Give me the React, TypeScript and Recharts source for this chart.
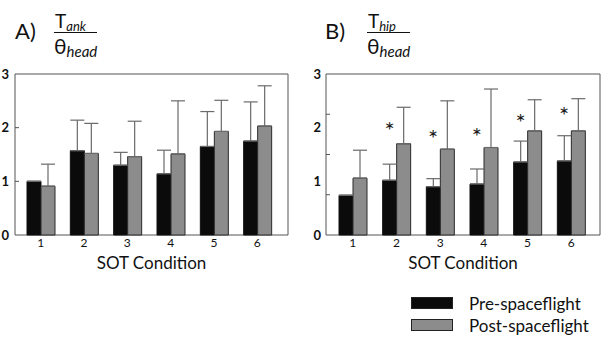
import React from 'react';
import { ComposedChart, Bar, ErrorBar, XAxis, YAxis, CartesianGrid, Scatter, Legend } from 'recharts';

const FONT = 'Lato, "Open Sans", sans-serif';

// ---- data ----
const conditions = ['1', '2', '3', '4', '5', '6'];

const ankPre = [1.0, 1.57, 1.3, 1.14, 1.65, 1.75];
const ankPreSD = [0, 0.57, 0.24, 0.44, 0.65, 0.73];
const ankPost = [0.91, 1.52, 1.46, 1.51, 1.93, 2.03];
const ankPostSD = [0.41, 0.56, 0.66, 0.99, 0.58, 0.75];

const hipPre = [0.74, 1.02, 0.9, 0.95, 1.36, 1.38];
const hipPreSD = [0, 0.3, 0.15, 0.28, 0.39, 0.47];
const hipPost = [1.06, 1.7, 1.6, 1.63, 1.94, 1.94];
const hipPostSD = [0.52, 0.68, 0.9, 1.09, 0.58, 0.6];
const hipStars: (number | null)[] = [null, 1.99, 1.85, 1.88, 2.14, 2.28];

const yLabels = [0, 1, 2, 3];
const ankMarks = [1, 2];
const hipMarks = [0.75, 1.5, 2.25];

const PRE_NAME = 'Pre-spaceflight';
const POST_NAME = 'Post-spaceflight';
const PRE_COLOR = '#0b0b0b';
const POST_COLOR = '#8c8c8c';
const BAR_SIZE = 14;
const SERIES_ORDER = ['pre', 'post'];

const build = (pre: number[], preSD: number[], post: number[], postSD: number[], stars?: (number | null)[]) =>
  conditions.map((c, i) => ({
    cond: c,
    pre: pre[i],
    preErr: [0, preSD[i]],
    post: post[i],
    postErr: [0, postSD[i]],
    star: stars ? stars[i] : null,
  }));

const ankData = build(ankPre, ankPreSD, ankPost, ankPostSD);
const hipData = build(hipPre, hipPreSD, hipPost, hipPostSD, hipStars);

const makeYTick = (marks: number[], margin: number) => (props: any) => {
  const { x, y, payload } = props;
  const v = payload.value;
  const isLabel = yLabels.includes(v);
  return (
    <g>
      {isLabel && (
        <text x={x} y={y} dy="0.36em" textAnchor="end" fontSize={13} fontWeight={700} fill="#111" fontFamily={FONT}>
          {v}
        </text>
      )}
      {marks.includes(v) && <line x1={x + margin} x2={x + margin + 4} y1={y} y2={y} stroke="#555" />}
    </g>
  );
};

const Star = (props: any) => {
  const { cx, cy } = props;
  if (!Number.isFinite(cx) || !Number.isFinite(cy)) return null;
  return (
    <text x={cx - BAR_SIZE / 2} y={cy} dy={11} textAnchor="middle" fontSize={24} fill="#1a1a1a" fontFamily={FONT}>
      *
    </text>
  );
};

const frameH = ({ offset }: any) => [offset.top, offset.top + offset.height];
const frameV = ({ offset }: any) => [offset.left, offset.left + offset.width];

const LegendContent = (props: any) => {
  const items = (props.payload || [])
    .filter((p: any) => SERIES_ORDER.includes(p.dataKey))
    .sort((a: any, b: any) => SERIES_ORDER.indexOf(a.dataKey) - SERIES_ORDER.indexOf(b.dataKey));
  return (
    <div style={{ fontFamily: FONT, fontSize: 17, color: '#111' }}>
      {items.map((p: any) => (
        <div key={p.value} style={{ display: 'flex', alignItems: 'center', height: 22 }}>
          <span
            style={{
              display: 'inline-block',
              width: 40,
              height: 10,
              background: p.color,
              border: '1px solid #222',
              marginRight: 16,
            }}
          />
          <span>{p.value}</span>
        </div>
      ))}
    </div>
  );
};

function Panel(props: {
  data: any[];
  yWidth: number;
  right: number;
  marks: number[];
  tickMargin: number;
  padL: number;
  padR: number;
  width: number;
  withStars?: boolean;
  withLegend?: boolean;
}) {
  const { data, yWidth, right, marks, tickMargin, padL, padR, width, withStars, withLegend } = props;
  const yTicks = Array.from(new Set([...yLabels, ...marks])).sort((a, b) => a - b);
  return (
    <ComposedChart width={width} height={340} data={data} margin={{ top: 74, right, bottom: 60, left: 0 }} barGap={0}>
      <CartesianGrid stroke="#555" horizontalCoordinatesGenerator={frameH} verticalCoordinatesGenerator={frameV} />
      <XAxis
        dataKey="cond"
        height={45}
        padding={{ left: padL, right: padR }}
        tickLine={false}
        axisLine={false}
        tickSize={0}
        tickMargin={3}
        tick={{ fontSize: 12, fill: '#111', fontFamily: FONT }}
        label={{ value: 'SOT Condition', position: 'insideBottom', offset: 11, fontSize: 17, fill: '#111', fontFamily: FONT }}
      />
      <YAxis
        type="number"
        domain={[0, 3]}
        ticks={yTicks}
        interval={0}
        width={yWidth}
        axisLine={false}
        tickLine={false}
        tickSize={0}
        tickMargin={tickMargin}
        tick={makeYTick(marks, tickMargin)}
      />
      <Bar dataKey="pre" name={PRE_NAME} fill={PRE_COLOR} stroke="#111" strokeWidth={1} barSize={BAR_SIZE} isAnimationActive={false}>
        <ErrorBar dataKey="preErr" width={7} stroke="#6a6a6a" strokeWidth={1.2} isAnimationActive={false} />
      </Bar>
      <Bar dataKey="post" name={POST_NAME} fill={POST_COLOR} stroke="#2a2a2a" strokeWidth={1} barSize={BAR_SIZE} isAnimationActive={false}>
        <ErrorBar dataKey="postErr" width={7} stroke="#6a6a6a" strokeWidth={1.2} isAnimationActive={false} />
      </Bar>
      {withStars && <Scatter dataKey="star" fill="#1a1a1a" shape={Star} legendType="none" isAnimationActive={false} />}
      {withLegend && (
        <Legend
          layout="horizontal"
          verticalAlign="middle"
          align="center"
          content={LegendContent}
          wrapperStyle={{ left: 111, top: 292, width: 'auto', height: 'auto' }}
        />
      )}
    </ComposedChart>
  );
}

function Frac({ sub, left }: { sub: string; left: number }) {
  return (
    <div style={{ position: 'absolute', left, top: 11, fontFamily: FONT, color: '#111', lineHeight: 1 }}>
      <div style={{ fontSize: 19, borderBottom: '1.5px solid #111', paddingBottom: 2, paddingLeft: 1 }}>
        T<span style={{ fontSize: 13, fontStyle: 'italic', position: 'relative', top: 3 }}>{sub}</span>
      </div>
      <div style={{ fontSize: 21, paddingTop: 2 }}>
        θ<span style={{ fontSize: 15, fontStyle: 'italic', position: 'relative', top: 3 }}>head</span>
      </div>
    </div>
  );
}

export default function App() {
  return (
    <div style={{ position: 'absolute', left: 0, top: 0, width: 611, height: 340, background: '#fff', overflow: 'hidden' }}>
      <div style={{ position: 'absolute', left: 0, top: 0 }}>
        <Panel data={ankData} width={300} yWidth={15} right={12} marks={ankMarks} tickMargin={6} padL={4} padR={9} />
      </div>
      <div style={{ position: 'absolute', left: 300, top: 0 }}>
        <Panel
          data={hipData}
          width={311}
          yWidth={26}
          right={11}
          marks={hipMarks}
          tickMargin={5}
          padL={5}
          padR={7}
          withStars
          withLegend
        />
      </div>
      <div style={{ position: 'absolute', left: 15, top: 17, fontFamily: FONT, fontSize: 22, color: '#111' }}>A)</div>
      <Frac sub="ank" left={54} />
      <div style={{ position: 'absolute', left: 325, top: 17, fontFamily: FONT, fontSize: 22, color: '#111' }}>B)</div>
      <Frac sub="hip" left={367} />
    </div>
  );
}
